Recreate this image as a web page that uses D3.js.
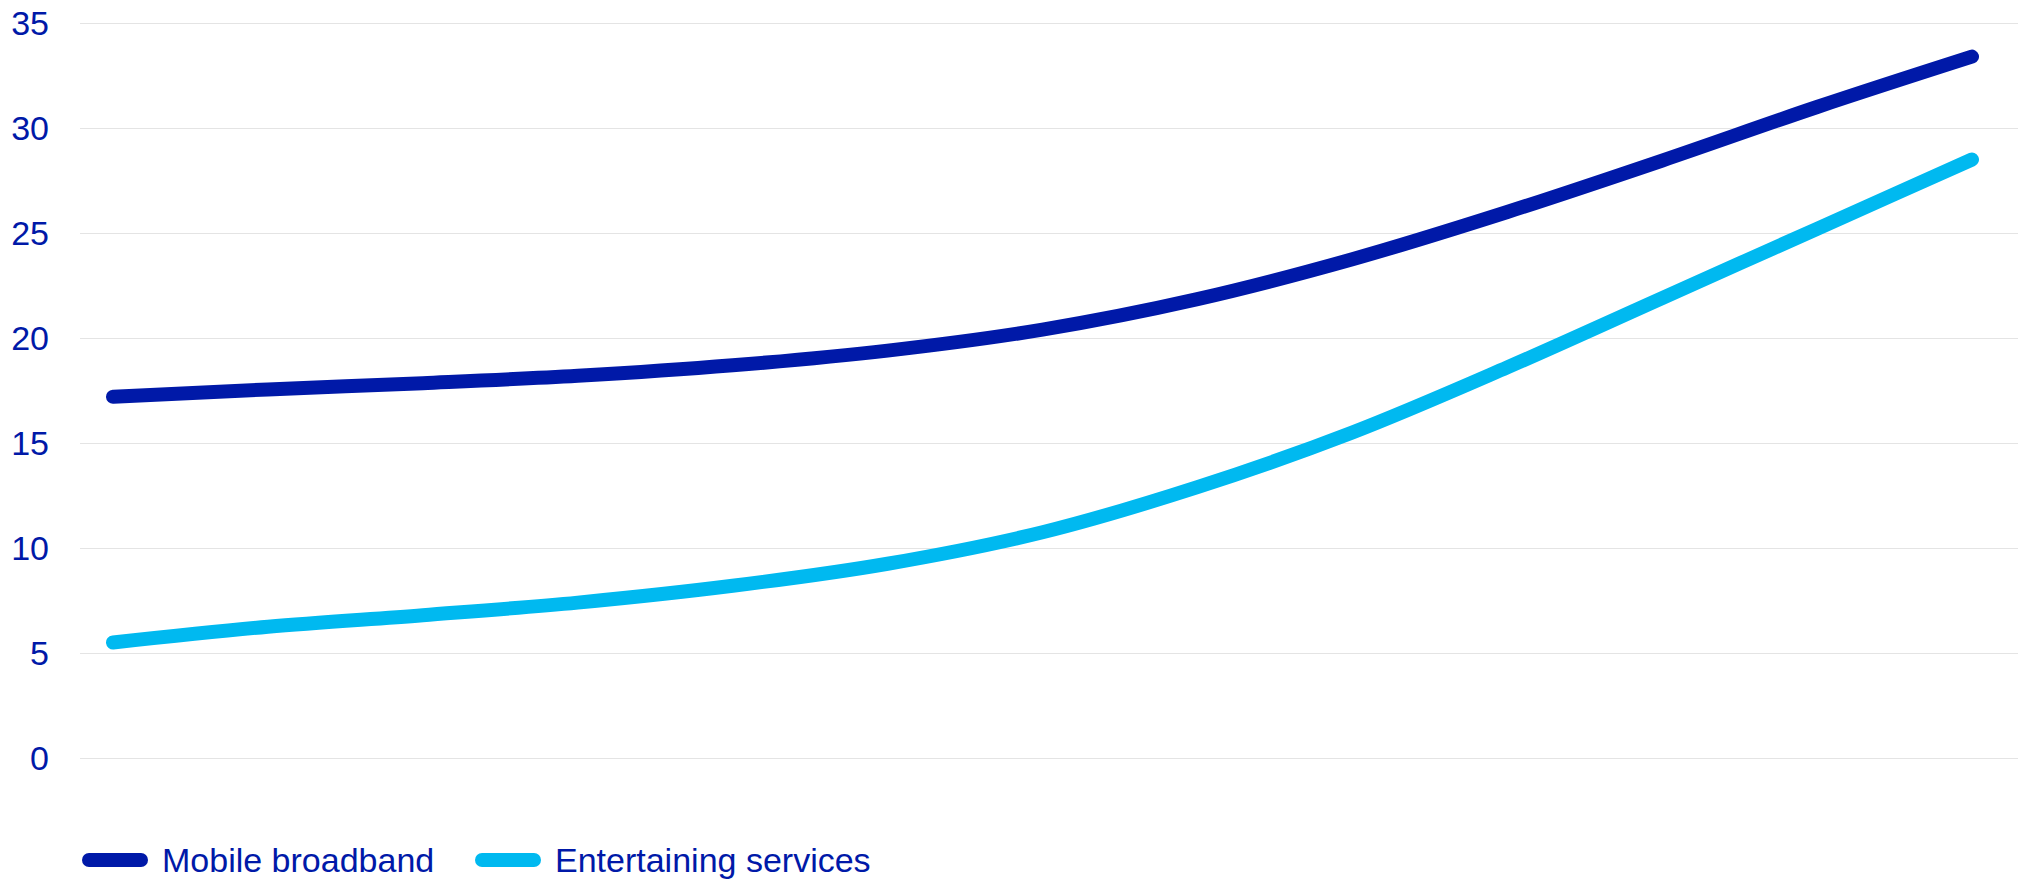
<!DOCTYPE html>
<html>
<head>
<meta charset="utf-8">
<script src="https://cdn.jsdelivr.net/npm/d3@7"></script>
<style>
  body { margin: 0; background: #fff; }
  text { font-family: "Liberation Sans", Arial, sans-serif; }
</style>
</head>
<body>
<div id="container"></div>
<script>
// data (no x labels are shown, so steps are just indexes)
var steps = [0, 1, 2, 3, 4, 5, 6, 7, 8, 9, 10, 11, 12];
var mobileBroadband = [17.2, 17.55, 17.85, 18.2, 18.7, 19.4, 20.4, 21.85, 23.75, 26.0, 28.45, 31.0, 33.4];
var entertaining = [5.5, 6.25, 6.8, 7.4, 8.2, 9.25, 10.75, 12.9, 15.5, 18.6, 21.9, 25.2, 28.5];
var yTicks = [0, 5, 10, 15, 20, 25, 30, 35];
var seriesNames = ["Mobile broadband", "Entertaining services"];
var colors = ["#0019a8", "#00b9f0"];

var width = 2026, height = 882;

var svg = d3.select("#container")
  .append("svg")
    .attr("width", width)
    .attr("height", height);

var x = d3.scaleLinear()
  .domain([0, steps.length - 1])
  .range([113, 1972]);

var y = d3.scaleLinear()
  .domain([0, 35])
  .range([758, 23]);

// gridlines
svg.append("g")
  .selectAll("line")
  .data(yTicks)
  .enter()
  .append("line")
    .attr("x1", 80)
    .attr("x2", 2018)
    .attr("y1", function(d) { return Math.round(y(d)) + 0.5; })
    .attr("y2", function(d) { return Math.round(y(d)) + 0.5; })
    .attr("stroke", "#e4e4e4")
    .attr("stroke-width", 1);

// Y axis
var yAxis = svg.append("g")
  .attr("transform", "translate(49,0)")
  .call(d3.axisLeft(y).tickValues(yTicks).tickSize(0).tickPadding(0));
yAxis.select(".domain").remove();
yAxis.selectAll("text")
  .style("font-family", "Liberation Sans, Arial, sans-serif")
  .style("font-size", "34px")
  .attr("dy", "0.35em")
  .attr("fill", "#0019a8");

// lines
var line = d3.line()
  .x(function(d, i) { return x(steps[i]); })
  .y(function(d) { return y(d); })
  .curve(d3.curveMonotoneX);

[mobileBroadband, entertaining].forEach(function(s, k) {
  svg.append("path")
    .datum(s)
    .attr("d", line)
    .attr("fill", "none")
    .attr("stroke", colors[k])
    .attr("stroke-width", 14)
    .attr("stroke-linecap", "round")
    .attr("stroke-linejoin", "round");
});

// legend
var legendX = [89, 482];
var legend = svg.append("g");
seriesNames.forEach(function(name, k) {
  legend.append("line")
    .attr("x1", legendX[k])
    .attr("x2", legendX[k] + 52)
    .attr("y1", 860)
    .attr("y2", 860)
    .attr("stroke", colors[k])
    .attr("stroke-width", 14)
    .attr("stroke-linecap", "round");
  legend.append("text")
    .attr("x", legendX[k] + 73)
    .attr("y", 872)
    .attr("fill", "#0019a8")
    .style("font-size", "34px")
    .text(name);
});
</script>
</body>
</html>
